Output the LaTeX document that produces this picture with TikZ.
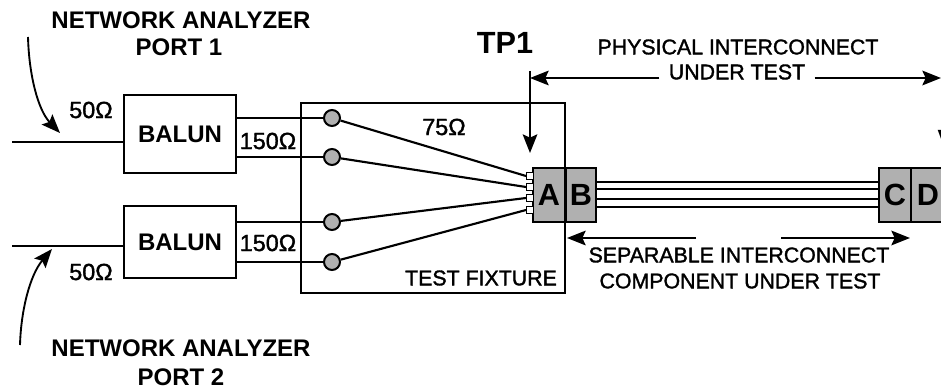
\documentclass[tikz,border=0pt]{standalone}
\usepackage{fontspec}
\setmainfont{Liberation Sans}
\newfontfamily\medf[FakeBold=1.5]{Liberation Sans}
\usetikzlibrary{arrows.meta,calc}
\tikzset{
  wire/.style={line width=1.6pt,draw=black},
  headed/.style={line width=1.4pt,-{Stealth[length=14pt,width=11pt,inset=2.5pt]}},
  boxn/.style={draw=black,line width=1.6pt,fill=white,inner sep=0pt,font=\bfseries\fontsize{18pt}{20pt}\selectfont},
  conn/.style={draw=black,line width=1.5pt,fill=gray70,inner sep=0pt,font=\bfseries\fontsize{23pt}{26pt}\selectfont},
  term/.style={circle,draw=black,line width=1.5pt,fill=gray70,minimum size=12pt,inner sep=0pt},
  pad/.style={draw=black,line width=1pt,fill=white,minimum size=5pt,inner sep=0pt},
  big/.style={font=\bfseries\fontsize{18pt}{21pt}\selectfont,inner sep=0pt},
  med/.style={font=\medf\fontsize{16pt}{19pt}\selectfont,inner sep=0pt},
  ohm/.style={font=\medf\fontsize{17.5pt}{20pt}\selectfont,inner sep=0pt},
}
\definecolor{gray70}{HTML}{B0B0B0}
\begin{document}
\begin{tikzpicture}[x=0.75pt,y=-0.75pt]
\useasboundingbox (0,0) rectangle (941,392);
\clip (0,0) rectangle (941,392);
% fixture
\node[draw=black,line width=1.6pt,minimum width=198pt,minimum height=143pt,inner sep=0pt] (fix) at (433,198) {};
% baluns
\node[boxn,minimum width=84pt,minimum height=58pt] (b1) at (180,134) {BALUN};
\node[boxn,minimum width=84pt,minimum height=54pt] (b2) at (180,242) {BALUN};
% terminals
\node[term] (c1) at (332,118) {};
\node[term] (c2) at (332,157) {};
\node[term] (c3) at (332,222) {};
\node[term] (c4) at (332,262) {};
% connectors
\node[conn,minimum width=24pt,minimum height=41pt] (A) at (549,195) {A};
\node[conn,minimum width=23pt,minimum height=41pt] (B) at (581,195) {B};
\node[conn,minimum width=24pt,minimum height=41pt] (C) at (895,195) {C};
\node[conn,minimum width=26pt,minimum height=41pt] (D) at (928,195) {D};
% pads
\node[pad] (p1) at (530,176) {};
\node[pad] (p2) at (530,187) {};
\node[pad] (p3) at (530,198) {};
\node[pad] (p4) at (530,210) {};
% free ends
\coordinate (in1) at (12,142);
\coordinate (in2) at (12,246);
\coordinate (tpT) at (530,71);
\coordinate (tpB) at (530,153);
\coordinate (physL) at (530,78);
\coordinate (physR) at (941,78);
\coordinate (sepL) at (567,238);
\coordinate (sepLe) at (696,238);
\coordinate (sepRs) at (781,238);
\coordinate (sepR) at (910,238);
\coordinate (a1s) at (28,37);
\coordinate (a1e) at (60,133);
\coordinate (a2s) at (20,345);
\coordinate (a2e) at (52,249);
% wires
\draw[wire] (in1) -- (in1 -| b1.west);
\draw[wire] (in2) -- (in2 -| b2.west);
\draw[wire] (c1.west -| b1.east) -- (c1.west);
\draw[wire] (c2.west -| b1.east) -- (c2.west);
\draw[wire] (c3.west -| b2.east) -- (c3.west);
\draw[wire] (c4.west -| b2.east) -- (c4.west);
\draw[wire] (c1) -- (p1.west);
\draw[wire] (c2) -- (p2.west);
\draw[wire] (c3) -- (p3.west);
\draw[wire] (c4) -- (p4.west);
\foreach \y in {182,189,199,207}{
  \draw[wire] (B.east |- 0,\y) -- (C.west |- 0,\y);
}
% labels
\node[big] (na1) at (181,20) {NETWORK ANALYZER};
\node[big] (pt1) at (179,47) {PORT 1};
\node[big] (na2) at (181,348) {NETWORK ANALYZER};
\node[big] (pt2) at (181,377) {PORT 2};
\node[ohm] (o1) at (91,110) {50Ω};
\node[ohm] (o2) at (91,272) {50Ω};
\node[ohm] (o3) at (268,141) {150Ω};
\node[ohm] (o4) at (268,243) {150Ω};
\node[ohm] (o5) at (444,127) {75Ω};
\node[font=\bfseries\fontsize{23pt}{26pt}\selectfont,inner sep=0pt] (tp) at (505,43) {TP1};
\node[med] (ph) at (738,47) {PHYSICAL INTERCONNECT};
\node[med,minimum width=116pt,minimum height=10pt] (ut) at (737,72) {UNDER TEST};
\node[med] (tf) at (481,278) {TEST FIXTURE};
\node[med] (s1) at (739,255) {SEPARABLE INTERCONNECT};
\node[med] (s2) at (740,281) {COMPONENT UNDER TEST};
\node[font=\bfseries\fontsize{16.5pt}{19pt}\selectfont,inner sep=0pt] (v) at (945,138) {V};
% arrows
\draw[headed] (tpT) -- (tpB);
\draw[headed] (ut.west |- physL) -- (physL);
\draw[headed] (ut.east |- physR) -- (physR);
\draw[headed] (sepLe) -- (sepL);
\draw[headed] (sepRs) -- (sepR);
\draw[headed] (a1s) .. controls (29,75) and (38,110) .. (a1e);
\draw[headed] (a2s) .. controls (21,310) and (30,275) .. (a2e);
\end{tikzpicture}
\end{document}
